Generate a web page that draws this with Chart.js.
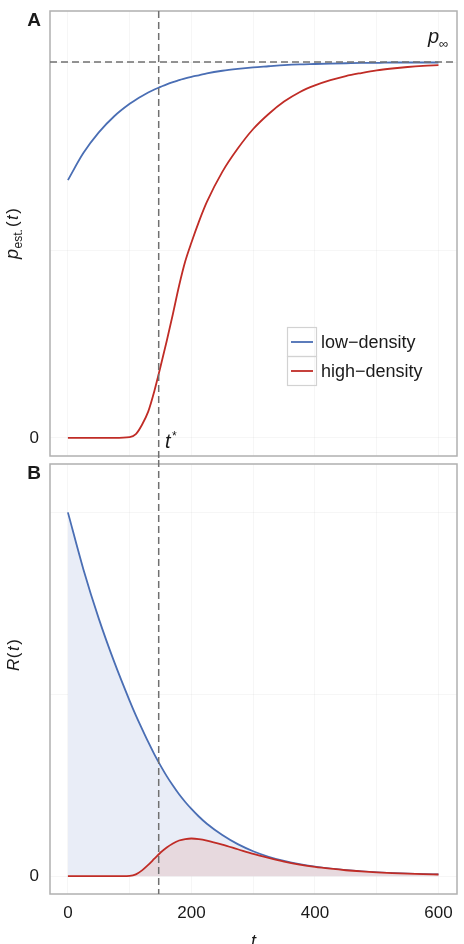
<!DOCTYPE html>
<html>
<head>
<meta charset="utf-8">
<script src="https://cdn.jsdelivr.net/npm/chart.js@4"></script>
<style>
  body { margin: 0; background: #fff; }
  .wrap { position: absolute; left: 0; }
</style>
</head>
<body>
<div class="wrap" style="top:0"><canvas id="chartA" width="464" height="460"></canvas></div>
<div class="wrap" style="top:460px"><canvas id="chartB" width="464" height="484"></canvas></div>
<script>
// time points (t)
const tVals = [0, 25, 50, 75, 100, 110, 120, 130, 140, 150, 160, 170, 180, 190, 200, 212, 225, 250, 275, 300, 325, 350, 375, 400, 425, 450, 475, 500, 525, 550, 575, 600]

// panel A: p_est.(t), scaled so p_inf = 1
const pLow = [0.686, 0.758, 0.813, 0.856, 0.889, 0.900, 0.910, 0.919, 0.927, 0.934, 0.941, 0.947, 0.952, 0.957, 0.961, 0.965, 0.970, 0.977, 0.982, 0.986, 0.989, 0.992, 0.994, 0.995, 0.996, 0.997, 0.998, 0.998, 0.999, 0.999, 0.999, 0.999]
const pHigh = [0, 0, 0, 0, 0.002, 0.01, 0.035, 0.07, 0.125, 0.19, 0.258, 0.33, 0.405, 0.47, 0.52, 0.575, 0.628, 0.708, 0.77, 0.822, 0.862, 0.895, 0.92, 0.938, 0.952, 0.963, 0.971, 0.978, 0.983, 0.987, 0.990, 0.992]

// panel B: R(t), scaled so R_low(0) = 1
const rLow = [1.0, 0.844, 0.708, 0.589, 0.482, 0.442, 0.405, 0.369, 0.335, 0.304, 0.275, 0.249, 0.225, 0.204, 0.185, 0.164, 0.144, 0.113, 0.088, 0.0686, 0.0534, 0.042, 0.033, 0.0262, 0.0209, 0.0166, 0.0133, 0.0107, 0.0086, 0.0069, 0.0056, 0.0047]
const rHigh = [0, 0, 0, 0, 0.001, 0.005, 0.016, 0.031, 0.048, 0.065, 0.079, 0.09, 0.098, 0.102, 0.1035, 0.102, 0.098, 0.087, 0.074, 0.061, 0.05, 0.040, 0.032, 0.0255, 0.0205, 0.0163, 0.0131, 0.0105, 0.0085, 0.0068, 0.0055, 0.0046]

const seriesNames = ['low\u2212density', 'high\u2212density']
const tStar = 147
const pInf = 1
const xGridTicks = [0, 100, 200, 300, 400, 500, 600]
const xTickLabels = ['0', '200', '400', '600']
const yGridTicks = [0, 0.5, 1]

const blue = 'rgb(74, 110, 180)'
const red = 'rgb(192, 44, 38)'
const blueFill = 'rgb(233, 237, 247)'
const redFill = 'rgb(231, 217, 222)'
const FONT = '"Liberation Sans", Arial, Helvetica, sans-serif'
const gridColor = 'rgba(0, 0, 0, 0.035)'

function pts(ys) {
    return tVals.map((t, i) => ({ x: t, y: ys[i] }))
}

// rich text: pieces of {t, f, dy}, centred on (cx, cy), optionally rotated
function drawRich(ctx, pieces, cx, cy, rot) {
    ctx.save()
    ctx.translate(cx, cy)
    if (rot) ctx.rotate(rot)
    let w = 0
    pieces.forEach(p => { ctx.font = p.f; w += ctx.measureText(p.t).width + (p.gap || 0) })
    let x = -w / 2
    ctx.textBaseline = 'alphabetic'
    ctx.textAlign = 'left'
    pieces.forEach(p => {
        ctx.font = p.f
        ctx.fillText(p.t, x, p.dy || 0)
        x += ctx.measureText(p.t).width + (p.gap || 0)
    })
    ctx.restore()
}

const decor = {
    id: 'decor',
    afterDatasetsDraw(chart, args, opts) {
        const ctx = chart.ctx
        const a = chart.chartArea
        const xs = chart.scales.x
        const ys = chart.scales.y
        ctx.save()

        // panel frame
        ctx.strokeStyle = '#b0b0b0'
        ctx.lineWidth = 1.5
        ctx.strokeRect(a.left, a.top, a.right - a.left, a.bottom - a.top)

        // t* line, runs through the gap between panels
        ctx.setLineDash([7, 4])
        ctx.strokeStyle = '#707070'
        ctx.lineWidth = 1.5
        const xt = xs.getPixelForValue(tStar)
        ctx.beginPath()
        if (opts.panel === 'A') {
            ctx.moveTo(xt, a.top); ctx.lineTo(xt, chart.height)
        } else {
            ctx.moveTo(xt, 0); ctx.lineTo(xt, a.bottom)
        }
        ctx.stroke()

        ctx.fillStyle = '#1a1a1a'
        if (opts.panel === 'A') {
            // p_inf line
            const yp = ys.getPixelForValue(pInf)
            ctx.beginPath()
            ctx.moveTo(a.left, yp); ctx.lineTo(a.right, yp)
            ctx.stroke()
            ctx.setLineDash([])

            ctx.font = 'italic 20px ' + FONT
            ctx.textAlign = 'left'
            ctx.textBaseline = 'alphabetic'
            ctx.fillText('p', 428, 43)
            ctx.font = '13px ' + FONT
            ctx.fillText('\u221E', 439, 48)

            ctx.font = 'italic 20px ' + FONT
            ctx.fillText('t', 165, 448)
            ctx.font = '12px ' + FONT
            ctx.fillText('*', 172, 440)

            // legend
            const colors = [blue, red]
            seriesNames.forEach((name, i) => {
                const top = 327.5 + i * 29
                ctx.strokeStyle = '#d2d2d2'
                ctx.lineWidth = 1.2
                ctx.strokeRect(287.5, top, 29, 29)
                ctx.strokeStyle = colors[i]
                ctx.lineWidth = 1.8
                ctx.beginPath()
                ctx.moveTo(291, top + 14.5); ctx.lineTo(313, top + 14.5)
                ctx.stroke()
                ctx.font = '18px ' + FONT
                ctx.textBaseline = 'middle'
                ctx.fillText(name, 321, top + 15.5)
            })

            // y title p_est.(t)
            const cy = (a.top + a.bottom) / 2
            drawRich(ctx, [
                { t: 'p', f: 'italic 18px ' + FONT, gap: 0.5 },
                { t: 'est.', f: '12px ' + FONT, dy: 4, gap: 2 },
                { t: '(', f: '17px ' + FONT, gap: 1.5 },
                { t: 't', f: 'italic 17px ' + FONT, gap: 1.5 },
                { t: ')', f: '17px ' + FONT }
            ], 18, cy, -Math.PI / 2)
        } else {
            ctx.setLineDash([])
            drawRich(ctx, [
                { t: 'R', f: 'italic 17px ' + FONT, gap: 0.5 },
                { t: '(', f: '17px ' + FONT, gap: 1.5 },
                { t: 't', f: 'italic 17px ' + FONT, gap: 1.5 },
                { t: ')', f: '17px ' + FONT }
            ], 19, (a.top + a.bottom) / 2 - 24, -Math.PI / 2)
        }

        // panel letter
        ctx.font = 'bold 19px ' + FONT
        ctx.textAlign = 'center'
        ctx.textBaseline = 'middle'
        ctx.fillText(opts.panel, 34, a.top + 10)
        ctx.restore()
    }
}

function yScale(min, max) {
    return {
        type: 'linear', min: min, max: max,
        afterBuildTicks: s => { s.ticks = yGridTicks.map(v => ({ value: v })) },
        ticks: { callback: v => (v === 0 ? '0' : ''), padding: 11, color: '#1a1a1a', font: { family: FONT, size: 17 } },
        grid: { color: gridColor, drawTicks: false },
        border: { display: false },
        afterFit: s => { s.width = 50; s.paddingTop = 0; s.paddingBottom = 0 }
    }
}

const common = {
    responsive: false,
    animation: false,
    elements: { point: { radius: 0 }, line: { borderWidth: 1.8, cubicInterpolationMode: 'monotone' } },
    plugins: { legend: { display: false }, tooltip: { enabled: false } }
}

new Chart(document.getElementById('chartA'), {
    type: 'line',
    data: {
        datasets: [
            { label: seriesNames[0], data: pts(pLow), borderColor: blue, fill: false },
            { label: seriesNames[1], data: pts(pHigh), borderColor: red, fill: false }
        ]
    },
    options: {
        ...common,
        layout: { padding: { top: 11, right: 7, bottom: 4, left: 0 } },
        plugins: { ...common.plugins, decor: { panel: 'A' } },
        scales: {
            x: {
                type: 'linear', min: -29, max: 630,
                afterBuildTicks: s => { s.ticks = xGridTicks.map(v => ({ value: v })) },
                ticks: { display: false },
                grid: { color: gridColor, drawTicks: false },
                border: { display: false },
                afterFit: s => { s.height = 0; s.paddingLeft = 0; s.paddingRight = 0 }
            },
            y: yScale(-0.048, 1.136)
        }
    },
    plugins: [decor]
})

new Chart(document.getElementById('chartB'), {
    type: 'line',
    data: {
        datasets: [
            { label: seriesNames[0], data: pts(rLow), borderColor: blue, backgroundColor: blueFill, fill: 'origin', order: 1 },
            { label: seriesNames[1], data: pts(rHigh), borderColor: red, backgroundColor: redFill, fill: 'origin', order: 0 }
        ]
    },
    options: {
        ...common,
        layout: { padding: { top: 4, right: 7, bottom: 0, left: 0 } },
        plugins: { ...common.plugins, decor: { panel: 'B' } },
        scales: {
            x: {
                type: 'linear', min: -29, max: 630,
                afterBuildTicks: s => { s.ticks = xGridTicks.map(v => ({ value: v })) },
                ticks: {
                    callback: v => (xTickLabels.includes(String(v)) ? String(v) : ''),
                    autoSkip: false, maxRotation: 0, padding: 9,
                    color: '#1a1a1a', font: { family: FONT, size: 17 }
                },
                grid: { color: gridColor, drawTicks: false },
                border: { display: false },
                title: { display: true, text: 't', color: '#1a1a1a', font: { family: FONT, size: 18, style: 'italic' }, padding: { top: 0, bottom: -9 } },
                afterFit: s => { s.height = 50; s.paddingLeft = 0; s.paddingRight = 0 }
            },
            y: yScale(-0.049, 1.133)
        }
    },
    plugins: [decor]
})
</script>
</body>
</html>
